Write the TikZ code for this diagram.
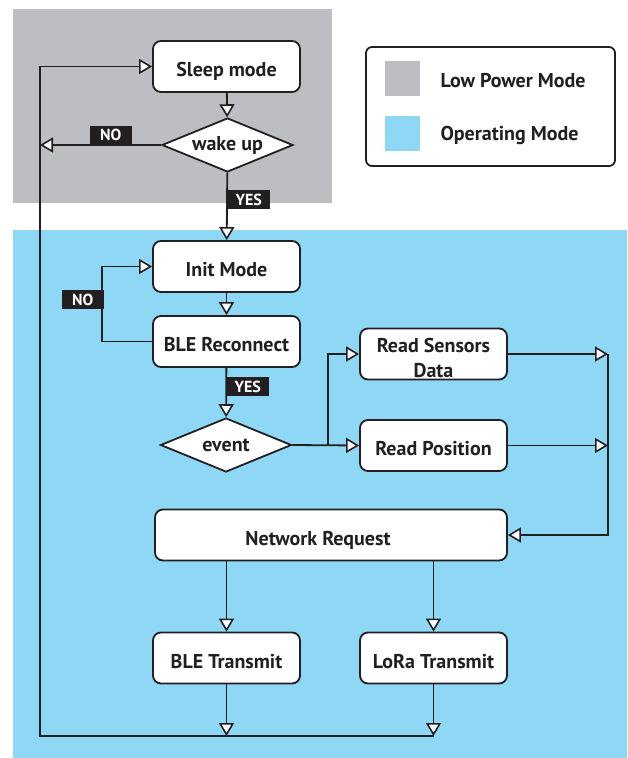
\documentclass[tikz,border=0pt]{standalone}
\usepackage{fontspec}
\setmainfont{PT Sans}
\usepackage{tikz}
\usetikzlibrary{arrows.meta, shapes.geometric, positioning}
\definecolor{lowgray}{RGB}{188, 190, 193}
\definecolor{opblue}{RGB}{142, 216, 246}
\definecolor{inkblack}{RGB}{35, 31, 32}
\newcommand{\boxfont}{\fontsize{20}{25}\selectfont\bfseries}
\newcommand{\tagfont}{\fontsize{16}{18}\selectfont\bfseries}

\begin{document}
\begin{tikzpicture}[x=1pt, y=-1pt,
  procbox/.style={draw=inkblack, line width=1.8pt, rounded corners=8pt, fill=white, minimum width=147pt, minimum height=51pt, align=center, inner sep=0pt, text height=20pt, text depth=0pt, font=\boxfont, text=inkblack},
  decide/.style={draw=inkblack, line width=1.8pt, diamond, fill=white, aspect=2.4, minimum width=131pt, minimum height=54pt, inner sep=0pt, font=\boxfont, text=inkblack},
  tag/.style={fill=inkblack, text=white, font=\tagfont, minimum width=42pt, minimum height=19pt, inner sep=0pt},
  flow/.style={draw=inkblack, line width=1.8pt, -{Triangle[length=13pt, width=15pt, fill=white, line width=1.6pt]}},
  swatch/.style={minimum width=35pt, minimum height=35pt, inner sep=0pt},
  legtext/.style={anchor=west, font=\boxfont, text=inkblack}
]
  \useasboundingbox (0,0) rectangle (627,758);
  % mode areas
  \fill[lowgray] (13,9) rectangle (332,203);
  \fill[opblue] (13,230) rectangle (627,758);

  % legend
  \draw[inkblack, line width=1.8pt, rounded corners=6pt, fill=white] (366,47) rectangle (615,166);
  \node[swatch, fill=lowgray] (lpsw) at (402.5,78.5) {};
  \node[swatch, fill=opblue] (opsw) at (402.5,133.5) {};
  \node[legtext] (lptext) at (437,81) {Low Power Mode};
  \node[legtext] (optext) at (437,135) {Operating Mode};

  % flow nodes
  \node[procbox] (sleep) at (226.5,66.5) {Sleep mode};
  \node[decide] (wake) at (227.5,145) {wake up};
  \node[procbox] (init) at (226.5,266.5) {Init Mode};
  \node[procbox] (ble) at (226.5,341.5) {BLE Reconnect};
  \node[decide] (event) at (226,445) {event};
  \node[procbox, text height={}, text depth={}] (sensors) at (433.5,354) {\rule{0pt}{22pt}Read Sensors\\Data};
  \node[procbox] (position) at (433.5,445.5) {Read Position};
  \node[procbox, minimum width=352pt] (netreq) at (331,535) {Network Request\hspace*{26pt}};
  \node[procbox] (bletx) at (226.5,658) {BLE Transmit};
  \node[procbox] (loratx) at (433.5,658) {LoRa Transmit};

  % free ends
  \coordinate (nohit) at (40,145);
  \coordinate (loopbl) at (40,736);
  \coordinate (branch) at (328,445);
  \coordinate (sjoin) at (608,354);
  \coordinate (pjoin) at (608,445.5);

  % connectors
  \draw[flow] (sleep) -- (wake);
  \draw[flow] (wake.west) -- (nohit);
  \node[tag, anchor=south east] (no1) at (132,145) {NO};
  \draw[flow] (wake) -- (init);
  \node[tag, anchor=north west] (yes1) at (227.5,190) {YES};
  \draw[flow] (init) -- (ble);
  \draw[flow] (ble.west) -- ++(-50,0) |- (init.west);
  \node[tag, anchor=north east] (no2) at (104,290) {NO};
  \draw[flow] (ble) -- (event);
  \node[tag, anchor=north west] (yes2) at (226.5,377) {YES};
  \draw[flow] (event.east) -- (position.west);
  \draw[flow] (branch) |- (sensors.west);
  \draw[flow] (sensors.east) -- (sjoin);
  \draw[flow] (position.east) -- (pjoin);
  \draw[flow] (sjoin) |- (netreq.east);
  \draw[flow] (netreq.south -| bletx) -- (bletx);
  \draw[flow] (netreq.south -| loratx) -- (loratx);
  \draw[flow] (bletx) -- (bletx |- loopbl);
  \draw[flow] (loratx) -- (loratx |- loopbl);
  \draw[flow] (loratx |- loopbl) -- (loopbl) |- (sleep.west);
\end{tikzpicture}
\end{document}
